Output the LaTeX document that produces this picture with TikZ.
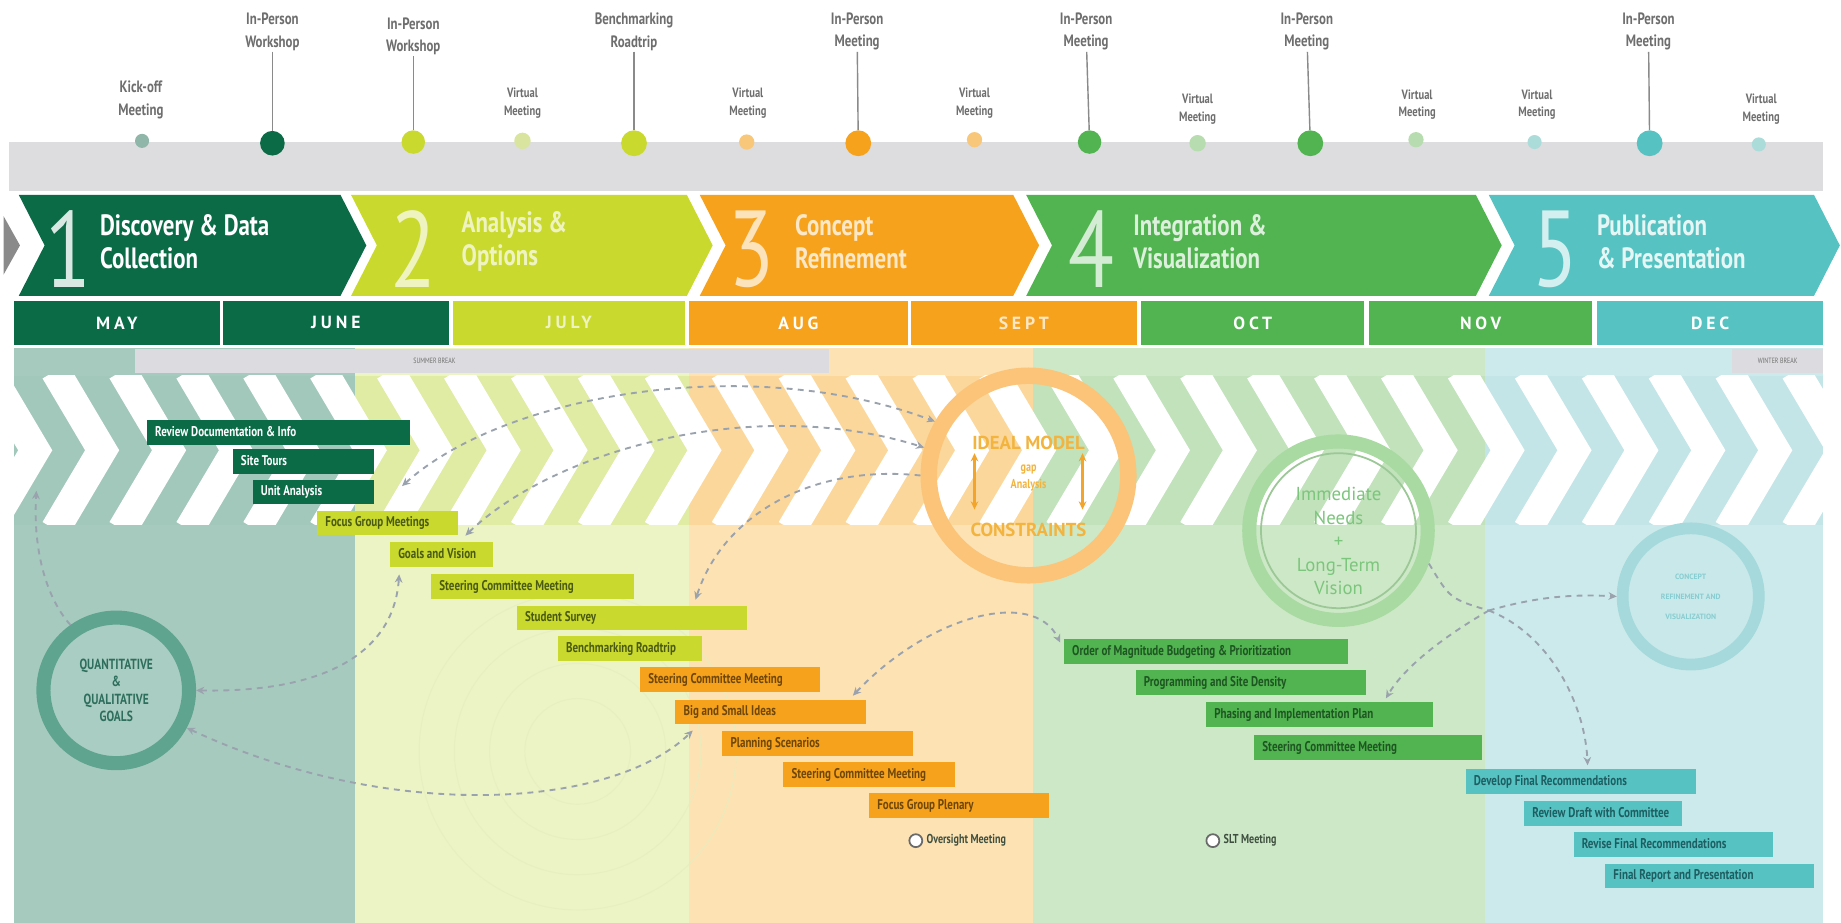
\documentclass[tikz,border=0pt]{standalone}
\usepackage{fontspec}
\setmainfont{PT Sans}[FakeStretch=0.78]
\newfontfamily\mfont{PT Sans}[LetterSpace=22]
\newfontfamily\wfont{PT Sans}
\usetikzlibrary{arrows.meta,calc}
\definecolor{dkgreen}{HTML}{0B6B47}
\definecolor{lime}{HTML}{C9D92D}
\definecolor{orange}{HTML}{F6A21D}
\definecolor{green}{HTML}{51B450}
\definecolor{teal}{HTML}{56C3C2}
\definecolor{cA}{HTML}{A7CABF}
\definecolor{cB}{HTML}{ECF3C4}
\definecolor{cC}{HTML}{FDE2B3}
\definecolor{cD}{HTML}{CDE8C7}
\definecolor{cE}{HTML}{CCEAEB}
\definecolor{bA}{HTML}{A2C7BB}
\definecolor{bB}{HTML}{E0EBA3}
\definecolor{bC}{HTML}{FCD79B}
\definecolor{bD}{HTML}{C1E2BB}
\definecolor{bE}{HTML}{C3E5E7}
\definecolor{greyband}{HTML}{DDDDDF}
\definecolor{sbgrey}{HTML}{DCDCE0}
\definecolor{toptext}{HTML}{6E6E6E}
\definecolor{stemgrey}{HTML}{8A8A8A}
\definecolor{dashgrey}{HTML}{9AA2AE}
\definecolor{qring}{HTML}{5FA48F}
\definecolor{qfill}{HTML}{A9CDC2}
\definecolor{qtext}{HTML}{2E6E5C}
\definecolor{idring}{HTML}{FBC479}
\definecolor{idtext}{HTML}{F2B43F}
\definecolor{idarrow}{HTML}{F3A42A}
\definecolor{imring}{HTML}{A8DAA2}
\definecolor{imtext}{HTML}{7CC57C}
\definecolor{ccring}{HTML}{A6D9DC}
\definecolor{cctext}{HTML}{88CDD1}
\definecolor{ccfill}{HTML}{C8E8EA}
\definecolor{txlime}{HTML}{4A5A12}
\definecolor{txor}{HTML}{6E4708}
\definecolor{txgr}{HTML}{1E5622}
\definecolor{txteal}{HTML}{1E5E62}
\definecolor{dkick}{HTML}{8FB6A9}
\definecolor{dvlime}{HTML}{D9E59E}
\definecolor{dvor}{HTML}{F8C779}
\definecolor{dvgr}{HTML}{B7DCAF}
\definecolor{dvteal}{HTML}{ABDCDA}
\definecolor{ovgrey}{HTML}{6A6A6A}
\definecolor{ovtext}{HTML}{3F4F3F}
\definecolor{faint}{HTML}{E6EEBF}
\newcommand\barbox[2]{\makebox[#1pt][l]{#2}}
\begin{document}
\begin{tikzpicture}[x=1pt,y=-1pt,
 >={Stealth[length=7pt,width=6.5pt]},
 toplab/.style={font=\bfseries\fontsize{14}{19}\selectfont, text=toptext, align=center, inner sep=1pt},
 vlab/.style={font=\bfseries\fontsize{11.5}{15}\selectfont, text=toptext, align=center, inner sep=1pt},
 mdot/.style={circle, inner sep=0pt, minimum size=#1},
 stem/.style={draw=stemgrey, line width=1.2pt},
 month/.style={minimum height=38pt, inner sep=0pt, font=\mfont\bfseries\fontsize{15}{15}\selectfont, text=white},
 phnum/.style={font=\fontsize{92}{92}\selectfont, inner sep=0pt},
 phtitle/.style={anchor=west, align=left, font=\bfseries\fontsize{25}{28}\selectfont, inner sep=0pt},
 bar/.style={anchor=west, minimum height=21pt, inner xsep=7pt, inner ysep=0pt, text height=9pt, text depth=2.5pt, font=\bfseries\fontsize{12}{13}\selectfont},
 conn/.style={draw=dashgrey, dash pattern=on 5pt off 4.5pt, line width=1.6pt},
 smallnote/.style={font=\bfseries\fontsize{11}{12}\selectfont, text=ovtext, anchor=west, inner sep=0pt},
 ovdot/.style={circle, draw=ovgrey, fill=white, line width=1.5pt, minimum size=11pt, inner sep=0pt}
]
\useasboundingbox (0,0) rectangle (1568,786);
\fill[white] (0,0) rectangle (1568,786);

% ---------- top grey band ----------
\fill[greyband] (8,121) rectangle (1553,163);

% ---------- background columns ----------
\fill[cA] (12,296) rectangle (302,786);
\fill[cB] (302,296) rectangle (587,786);
\fill[cC] (587,296) rectangle (880,786);
\fill[cD] (880,296) rectangle (1265,786);
\fill[cE] (1265,296) rectangle (1553,786);

% faint concentric circles
\foreach \r in {45,75,105,135}
  \draw[faint, line width=1pt, opacity=0.7] (492,640) circle[radius=\r];

% ---------- chevron band ----------
\fill[bA] (12,320) rectangle (302,447);
\fill[bB] (302,320) rectangle (587,447);
\fill[bC] (587,320) rectangle (880,447);
\fill[bD] (880,320) rectangle (1265,447);
\fill[bE] (1265,320) rectangle (1553,447);
\begin{scope}
  \clip (12,320) rectangle (1553,447);
  \foreach \i in {0,...,28}
    \draw[white, line width=25pt, line join=miter] (\i*57-10,316) -- ++(40,67.5) -- ++(-40,67.5);
\end{scope}

% summer / winter break
\fill[sbgrey] (115,297) rectangle (706,318);
\node[font=\fontsize{6.5}{6.5}\selectfont, text=toptext] (sbt) at (370,307.5) {SUMMER BREAK};
\fill[sbgrey] (1475,297) rectangle (1553,318);
\node[font=\fontsize{6.5}{6.5}\selectfont, text=toptext] (wbt) at (1514,307.5) {WINTER BREAK};

% ---------- phase chevrons ----------
\fill[stemgrey] (3,184) -- (17,209) -- (3,234) -- cycle;
\fill[dkgreen] (16,166) -- (290,166) -- (312,209) -- (290,252) -- (16,252) -- (38,209) -- cycle;
\fill[lime] (299,166) -- (585,166) -- (607,209) -- (585,252) -- (299,252) -- (321,209) -- cycle;
\fill[orange] (596,166) -- (863,166) -- (885,209) -- (863,252) -- (596,252) -- (618,209) -- cycle;
\fill[green] (874,166) -- (1257,166) -- (1279,209) -- (1257,252) -- (874,252) -- (896,209) -- cycle;
\fill[teal] (1268,166) -- (1545,166) -- (1567,209) -- (1545,252) -- (1268,252) -- (1290,209) -- cycle;

\node[phnum, text=white, opacity=0.85] (n1) at (58,212) {1};
\node[phtitle, text=white] (t1) at (85,206) {Discovery \& Data\\Collection};
\node[phnum, text=white, opacity=0.7] (n2) at (352,212) {2};
\node[phtitle, text=white, opacity=0.7] (t2) at (393,206) {Analysis \&\\Options};
\node[phnum, text=white, opacity=0.7] (n3) at (640,212) {3};
\node[phtitle, text=white, opacity=0.75] (t3) at (677,206) {Concept\\Refinement};
\node[phnum, text=white, opacity=0.75] (n4) at (930,212) {4};
\node[phtitle, text=white, opacity=0.8] (t4) at (965,206) {Integration \&\\Visualization};
\node[phnum, text=white, opacity=0.75] (n5) at (1325,212) {5};
\node[phtitle, text=white, opacity=0.85] (t5) at (1360,206) {Publication\\\& Presentation};

% ---------- months ----------
\node[month, fill=dkgreen, minimum width=175pt] (may) at (99.5,275) {MAY};
\node[month, fill=dkgreen, minimum width=192pt] (jun) at (286,275) {JUNE};
\node[month, fill=lime, minimum width=197pt, text opacity=0.7] (jul) at (484.5,275) {JULY};
\node[month, fill=orange, minimum width=186pt] (aug) at (680,275) {AUG};
\node[month, fill=orange, minimum width=192pt, text opacity=0.75] (sep) at (872,275) {SEPT};
\node[month, fill=green, minimum width=190pt] (oct) at (1067,275) {OCT};
\node[month, fill=green, minimum width=190pt] (nov) at (1261,275) {NOV};
\node[month, fill=teal, minimum width=193pt] (dec) at (1456.5,275) {DEC};

% ---------- top meetings ----------
\node[toplab] (l1) at (120,85) {Kick-off\\Meeting};
\node[mdot=12pt, fill=dkick] (d1) at (121,120) {};
\node[toplab] (l2) at (232,27) {In-Person\\Workshop};
\node[mdot=21pt, fill=dkgreen] (d2) at (232,122) {};
\draw[stem] (l2) -- (d2);
\node[toplab] (l3) at (352,31) {In-Person\\Workshop};
\node[mdot=20pt, fill=lime] (d3) at (352,121) {};
\draw[stem] (l3) -- (d3);
\node[vlab] (l4) at (445,88) {Virtual\\Meeting};
\node[mdot=14pt, fill=dvlime] (d4) at (445,120) {};
\node[toplab] (l5) at (540,27) {Benchmarking\\Roadtrip};
\node[mdot=22pt, fill=lime] (d5) at (540,122) {};
\draw[stem] (l5) -- (d5);
\node[vlab] (l6) at (637,88) {Virtual\\Meeting};
\node[mdot=13pt, fill=dvor] (d6) at (636,121) {};
\node[toplab] (l7) at (730,27) {In-Person\\Meeting};
\node[mdot=22pt, fill=orange] (d7) at (731,122) {};
\draw[stem] (l7) -- (d7);
\node[vlab] (l8) at (830,88) {Virtual\\Meeting};
\node[mdot=13pt, fill=dvor] (d8) at (830,119) {};
\node[toplab] (l9) at (925,27) {In-Person\\Meeting};
\node[mdot=20pt, fill=green] (d9) at (928,121) {};
\draw[stem] (l9) -- (d9);
\node[vlab] (l10) at (1020,93) {Virtual\\Meeting};
\node[mdot=14pt, fill=dvgr] (d10) at (1020,122) {};
\node[toplab] (l11) at (1113,27) {In-Person\\Meeting};
\node[mdot=22pt, fill=green] (d11) at (1116,122) {};
\draw[stem] (l11) -- (d11);
\node[vlab] (l12) at (1207,89) {Virtual\\Meeting};
\node[mdot=13pt, fill=dvgr] (d12) at (1206,119) {};
\node[vlab] (l13) at (1309,89) {Virtual\\Meeting};
\node[mdot=12pt, fill=dvteal] (d13) at (1307,121) {};
\node[toplab] (l14) at (1404,27) {In-Person\\Meeting};
\node[mdot=22pt, fill=teal] (d14) at (1405,122) {};
\draw[stem] (l14) -- (d14);
\node[vlab] (l15) at (1500,93) {Virtual\\Meeting};
\node[mdot=12pt, fill=dvteal] (d15) at (1498,123) {};

% ---------- circles ----------
\node[circle, minimum size=124pt, draw=qring, line width=12pt, fill=qfill, align=center, inner sep=0pt,
      font=\bfseries\fontsize{12.5}{15}\selectfont, text=qtext] (qc) at (99,588) {QUANTITATIVE\\\&\\QUALITATIVE\\GOALS};

\node[circle, minimum size=170pt, draw=idring, line width=14pt, inner sep=0pt] (ideal) at (876,405) {};
\node[font=\wfont\bfseries\fontsize{16}{16}\selectfont, text=idtext] (idm) at (876,377) {IDEAL MODEL};
\node[font=\bfseries\fontsize{11}{14}\selectfont, text=idtext, align=center] (idg) at (876,407) {gap\\Analysis};
\node[font=\wfont\bfseries\fontsize{16}{16}\selectfont, text=idtext] (idc) at (876,451) {CONSTRAINTS};
\draw[<->, idarrow, line width=2.4pt] (830,386) -- (830,434);
\draw[<->, idarrow, line width=2.4pt] (922,386) -- (922,434);

\node[circle, minimum size=152pt, draw=imring, line width=12pt, inner sep=0pt] (imm) at (1140,452) {};
\draw[imring!90!black!95, line width=1.5pt] (imm.center) circle[radius=66];
\node[font=\wfont\fontsize{16}{20}\selectfont, text=imtext, align=center] (imt) at (1140,461) {Immediate\\Needs\\+\\Long-Term\\Vision};

\node[circle, minimum size=116pt, draw=ccring, line width=10pt, fill=ccfill, inner sep=0pt, align=center,
      font=\wfont\bfseries\fontsize{6.5}{17}\selectfont, text=cctext] (cc) at (1440,508) {CONCEPT\\REFINEMENT AND\\VISUALIZATION};

% ---------- task bars ----------
\node[bar, fill=dkgreen, text=white] (b1) at (125,368.5) {\barbox{210}{Review Documentation \& Info}};
\node[bar, fill=dkgreen, text=white] (b2) at (198,393) {\barbox{106}{Site Tours}};
\node[bar, fill=dkgreen, text=white] (b3) at (215,419) {\barbox{89}{Unit Analysis}};
\node[bar, fill=lime, text=txlime] (b4) at (270,445.5) {\barbox{106}{Focus Group Meetings}};
\node[bar, fill=lime, text=txlime] (b5) at (332,472.5) {\barbox{74}{Goals and Vision}};
\node[bar, fill=lime, text=txlime] (b6) at (367,499.5) {\barbox{159}{Steering Committee Meeting}};
\node[bar, fill=lime, text=txlime] (b7) at (440,526.5) {\barbox{182}{Student Survey}};
\node[bar, fill=lime, text=txlime] (b8) at (475,552.5) {\barbox{109}{Benchmarking Roadtrip}};
\node[bar, fill=orange, text=txor] (b9) at (545,578.5) {\barbox{139}{Steering Committee Meeting}};
\node[bar, fill=orange, text=txor] (b10) at (575,606.5) {\barbox{148}{Big and Small Ideas}};
\node[bar, fill=orange, text=txor] (b11) at (615,633.5) {\barbox{148}{Planning Scenarios}};
\node[bar, fill=orange, text=txor] (b12) at (667,659.5) {\barbox{132}{Steering Committee Meeting}};
\node[bar, fill=orange, text=txor] (b13) at (740,686) {\barbox{139}{Focus Group Plenary}};
\node[bar, fill=green, text=txgr] (b14) at (906,555) {\barbox{228}{Order of Magnitude Budgeting \& Prioritization}};
\node[bar, fill=green, text=txgr] (b15) at (967,581.5) {\barbox{182}{Programming and Site Density}};
\node[bar, fill=green, text=txgr] (b16) at (1027,608.5) {\barbox{179}{Phasing and Implementation Plan}};
\node[bar, fill=green, text=txgr] (b17) at (1068,636.5) {\barbox{180}{Steering Committee Meeting}};
\node[bar, fill=teal, text=txteal] (b18) at (1248,665.5) {\barbox{182}{Develop Final Recommendations}};
\node[bar, fill=teal, text=txteal] (b19) at (1298,693) {\barbox{120}{Review Draft with Committee}};
\node[bar, fill=teal, text=txteal] (b20) at (1340,719.5) {\barbox{156}{Revise Final Recommendations}};
\node[bar, fill=teal, text=txteal] (b21) at (1367,746) {\barbox{164}{Final Report and Presentation}};

% meeting notes
\node[ovdot] (ov) at (780,716) {};
\node[smallnote] (ovt) at (789,716) {Oversight Meeting};
\node[ovdot] (slt) at (1033,716) {};
\node[smallnote] (sltt) at (1042,716) {SLT Meeting};

% ---------- dashed connectors ----------
\draw[conn, <->] ($(b3.east)+(24,-5)$) .. controls (430,335) and (640,300) .. (ideal.150);
\draw[conn, <->] ($(b4.south east)+(6,0)$) .. controls (470,385) and (640,335) .. (ideal.165);
\draw[conn, ->] (ideal.180) .. controls (690,395) and (615,440) .. ($(b7.north east)+(-44,-5)$);
\draw[conn, <->] (qc.0) .. controls (270,590) and (335,560) .. ($(b5.south west)+(8,6)$);
\draw[conn, <->] (qc.-28) .. controls (330,700) and (520,690) .. ($(b10.south west)+(15,5)$);
\draw[conn, <->] ($(b9.east)+(28,14)$) .. controls (790,525) and (880,500) .. ($(b14.north west)+(-3,3)$);
\coordinate (hub) at (1268,520);
\draw[conn] (imm.-20) .. controls (1235,510) .. (hub);
\draw[conn, ->] (hub) .. controls (1310,508) and (1340,506) .. (cc.west);
\draw[conn, ->] (hub) .. controls (1320,540) and (1350,600) .. ($(b18.north)+(6,-3)$);
\draw[conn, ->] (hub) .. controls (1225,545) and (1195,570) .. ($(b16.north east)+(-40,-3)$);
\coordinate (htop) at (31,418);
\draw[conn, ->] (qc.125) .. controls (40,510) and (28,470) .. (htop);
\end{tikzpicture}
\end{document}
